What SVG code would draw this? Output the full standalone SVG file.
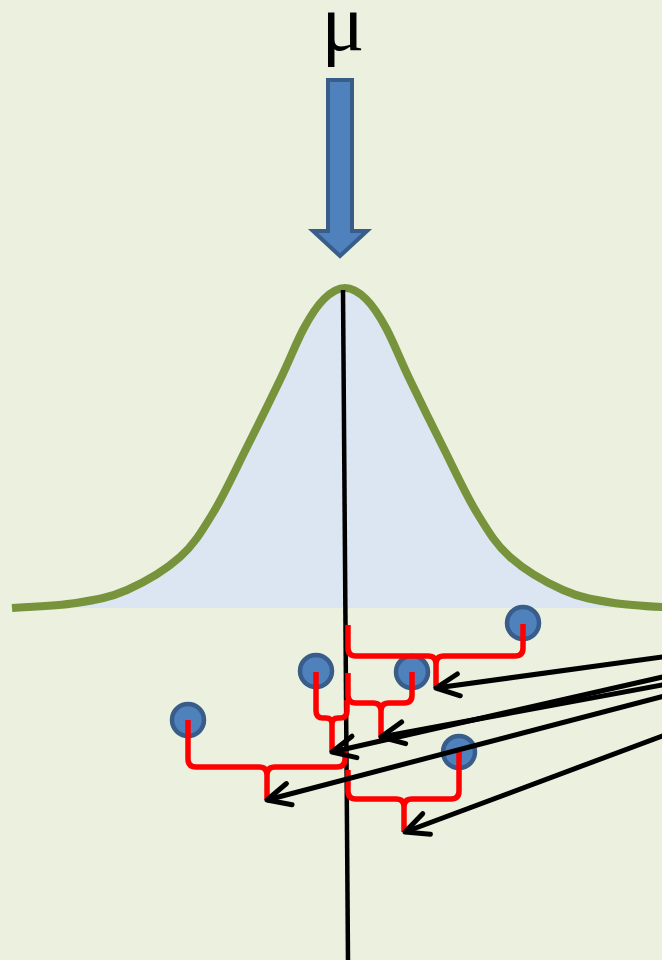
<svg xmlns="http://www.w3.org/2000/svg" width="662" height="960" viewBox="0 0 662 960">
<style>
.dot{fill:#4F81BD;stroke:#385D8A;stroke-width:4.5}
.brace{fill:none;stroke:#FF0000;stroke-width:5.5;stroke-linejoin:round}
.arr{fill:none;stroke:#000;stroke-width:5;marker-end:url(#ah)}
</style>
<defs>
<marker id="ah" markerUnits="userSpaceOnUse" markerWidth="40" markerHeight="40" viewBox="-30 -20 40 40" refX="0" refY="0" orient="auto" overflow="visible">
<path d="M-23,-11 L0,0 L-23,11" fill="none" stroke="#000" stroke-width="5" stroke-linecap="round" stroke-linejoin="round"/>
</marker>
</defs>
<rect width="662" height="960" fill="#EBF1DE"/>
<g id="mu">
<text x="343" y="50" font-family="'Liberation Serif', serif" font-size="80" text-anchor="middle" fill="#000">μ</text>
</g>
<g id="arrow-mu">
<path d="M328,80 L352,80 L352,231 L367,231 L340,256 L313,231 L328,231 Z" fill="#4F81BD" stroke="#385D8A" stroke-width="4"/>
</g>
<g id="bell">
<path d="M12,608 C22.7,607.2 56.8,606 76,603 C95.2,600 109.7,597.7 127,590 C144.3,582.3 165.7,569.8 180,557 C194.3,544.2 201.8,531.3 213,513 C224.2,494.7 235.8,469.2 247,447 C258.2,424.8 270.5,399.8 280,380 C289.5,360.2 296.7,341.5 304,328 C311.3,314.5 317.2,305.7 324,299 C330.8,292.3 338,288 345,288 C352,288 359.2,292.3 366,299 C372.8,305.7 378.7,314.5 386,328 C393.3,341.5 400.5,360.2 410,380 C419.5,399.8 431.8,424.8 443,447 C454.2,469.2 465.8,494.7 477,513 C488.2,531.3 495.7,544.2 510,557 C524.3,569.8 545.7,582.3 563,590 C580.3,597.7 594.8,600 614,603 C633.2,606 667.3,607.2 678,608 Z" fill="#DCE6F2" stroke="none"/>
<path d="M12,608 C22.7,607.2 56.8,606 76,603 C95.2,600 109.7,597.7 127,590 C144.3,582.3 165.7,569.8 180,557 C194.3,544.2 201.8,531.3 213,513 C224.2,494.7 235.8,469.2 247,447 C258.2,424.8 270.5,399.8 280,380 C289.5,360.2 296.7,341.5 304,328 C311.3,314.5 317.2,305.7 324,299 C330.8,292.3 338,288 345,288 C352,288 359.2,292.3 366,299 C372.8,305.7 378.7,314.5 386,328 C393.3,341.5 400.5,360.2 410,380 C419.5,399.8 431.8,424.8 443,447 C454.2,469.2 465.8,494.7 477,513 C488.2,531.3 495.7,544.2 510,557 C524.3,569.8 545.7,582.3 563,590 C580.3,597.7 594.8,600 614,603 C633.2,606 667.3,607.2 678,608" fill="none" stroke="#77933C" stroke-width="8"/>
</g>
<g id="mean-line">
<line x1="343" y1="290" x2="348" y2="962" stroke="#000" stroke-width="4.5"/>
</g>
<g id="dots">
<circle id="dot1" class="dot" cx="523" cy="623" r="16"/>
<circle id="dot2" class="dot" cx="412" cy="672" r="16"/>
<circle id="dot3" class="dot" cx="316" cy="671" r="16"/>
<circle id="dot4" class="dot" cx="188" cy="720" r="16"/>
<circle id="dot5" class="dot" cx="459" cy="752" r="16"/>
</g>
<g id="braces">
<path id="brace1" class="brace" d="M348,625 V648 Q348,656 356,656 H428 Q436,656 436,664 V688 M436,664 Q436,656 444,656 H515 Q523,656 523,648 V624"/>
<path id="brace2" class="brace" d="M348,673 V695 Q348,703 356,703 H373 Q381,703 381,711 V737 M381,711 Q381,703 389,703 H404 Q412,703 412,695 V672"/>
<path id="brace3" class="brace" d="M316,672 V711 Q316,718 323,718 H326 Q332,718 332,724 V752 M332,724 Q332,718 338,718 H340 Q347,718 347,711 V700"/>
<path id="brace4" class="brace" d="M188,720 V759 Q188,767 196,767 H259 Q267,767 267,775 V800 M267,775 Q267,767 275,767 H337 Q345,767 345,759 V748"/>
<path id="brace5" class="brace" d="M348,770 V791 Q348,799 356,799 H396 Q404,799 404,807 V832 M404,807 Q404,799 412,799 H451 Q459,799 459,791 V752"/>
</g>
<g id="connectors">
<line class="arr" x1="700" y1="651.8" x2="436" y2="688"/>
<line class="arr" x1="700" y1="678" x2="381" y2="737"/>
<line class="arr" x1="700" y1="668.5" x2="332" y2="752"/>
<line class="arr" x1="700" y1="686.6" x2="267" y2="800"/>
<line class="arr" x1="700" y1="721.9" x2="405" y2="832"/>
</g>
</svg>
